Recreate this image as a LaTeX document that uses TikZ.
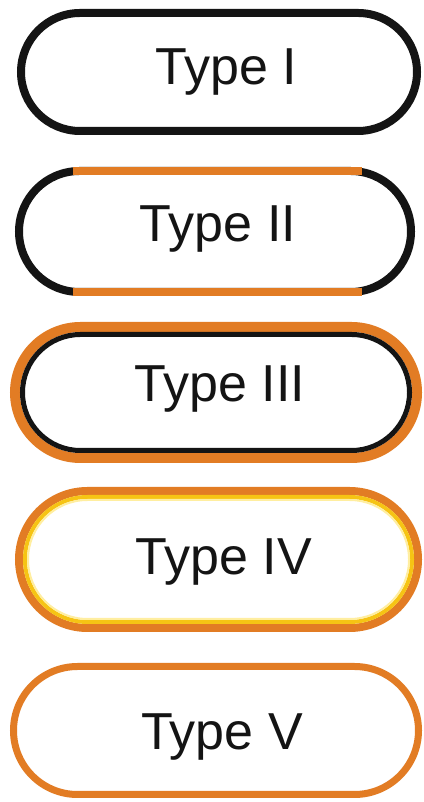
\documentclass[tikz,border=0pt]{standalone}
\usepackage{fontspec}
\setmainfont{Liberation Sans}
\definecolor{orng}{RGB}{226,124,36}
\definecolor{yelw}{RGB}{246,196,20}
\definecolor{paley}{RGB}{255,238,160}
\definecolor{blk}{RGB}{20,20,20}
\newcommand\stad[5][]{\pgfmathsetmacro\rr{(#5-#3)/2}%
  \draw[#1] (#2+\rr,#3) -- (#4-\rr,#3) arc[start angle=-90,end angle=90,radius=\rr pt] -- (#2+\rr,#5) arc[start angle=90,end angle=270,radius=\rr pt] -- cycle;}
\tikzset{
  lbl/.style={font=\fontsize{52}{60}\selectfont, text=blk, anchor=base, inner sep=0pt},
  blackline/.style={draw=blk, line width=8pt},
  orangeline/.style={draw=orng, line width=#1},
}
\begin{document}
\begin{tikzpicture}[x=1pt,y=1pt]
\useasboundingbox[fill=white] (0,0) rectangle (423,802);
% Type I
\stad[blackline]{21}{671}{417}{789}
\node[lbl] (t1) at (226,717) {Type I};
% Type II
\stad[blackline]{19}{510}{411}{631}
\draw[orangeline=8pt] (73,510) -- (362,510);
\draw[orangeline=8pt] (73,631) -- (362,631);
\node[lbl] (t2) at (218,560) {Type II};
% Type III
\stad[orangeline=10pt]{15}{344}{417}{475}
\stad[draw=blk,line width=5pt]{22.5}{351.5}{409.5}{467.5}
\node[lbl] (t3) at (220,400) {Type III};
% Type IV
\stad[orangeline=8pt]{19}{174}{418}{311}
\stad[draw=yelw,line width=4pt]{25}{180}{412}{305}
\stad[draw=paley,line width=2pt]{28}{183}{409}{302}
\node[lbl] (t4) at (224,227) {Type IV};
% Type V
\stad[orangeline=7pt]{13.5}{7.5}{418.5}{135.5}
\node[lbl] (t5) at (222,52) {Type V};
\end{tikzpicture}
\end{document}
